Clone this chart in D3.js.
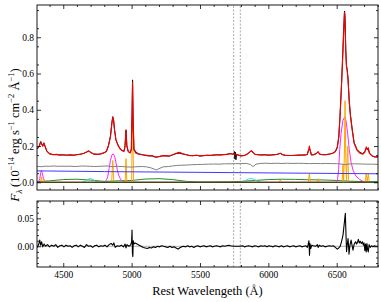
<!DOCTYPE html>
<html><head><meta charset="utf-8">
<script src="https://cdn.jsdelivr.net/npm/d3@7"></script>
<style>
body{margin:0;background:#fff}
svg{display:block}
text{font-family:"Liberation Serif","Times New Roman",serif;fill:#000}
</style>
</head><body><svg id="c" width="381" height="302"></svg>
<script>
// ---------------- DATA ----------------
const xMajorTicks = [4500, 5000, 5500, 6000, 6500];
const yTopTicks = [0.0, 0.2, 0.4, 0.6, 0.8];
const yBotTicks = [0.00, 0.05];
const maskedRegion = [5746, 5795];
const xLabel = "Rest Wavelengeth (Å)";

// observed spectrum (black)
const dataFlux = [[4310,0.183],[4325,0.202],[4335,0.225],[4343,0.212],[4350,0.199],[4358,0.218],[4366,0.2],[4380,0.171],[4400,0.157],[4425,0.153],[4450,0.153],[4475,0.151],[4500,0.151],[4525,0.15],[4550,0.151],[4575,0.149],[4600,0.153],[4625,0.155],[4650,0.159],[4670,0.168],[4686,0.173],[4700,0.166],[4720,0.156],[4740,0.155],[4760,0.154],[4780,0.158],[4800,0.164],[4815,0.17],[4830,0.201],[4845,0.253],[4855,0.325],[4862,0.362],[4868,0.346],[4875,0.29],[4885,0.234],[4900,0.206],[4915,0.186],[4930,0.176],[4945,0.171],[4952,0.204],[4959,0.287],[4965,0.203],[4975,0.17],[4990,0.163],[4998,0.185],[5003,0.38],[5007,0.565],[5011,0.33],[5017,0.185],[5030,0.168],[5050,0.158],[5075,0.153],[5100,0.148],[5125,0.145],[5150,0.145],[5175,0.138],[5200,0.141],[5225,0.146],[5250,0.146],[5275,0.144],[5300,0.151],[5325,0.158],[5350,0.16],[5375,0.156],[5400,0.152],[5425,0.147],[5450,0.147],[5475,0.149],[5500,0.145],[5525,0.147],[5550,0.149],[5575,0.149],[5600,0.15],[5625,0.152],[5650,0.151],[5675,0.153],[5700,0.155],[5721,0.159],[5740,0.155],[5748,0.156],[5752,0.17],[5755,0.128],[5759,0.166],[5763,0.124],[5768,0.155],[5780,0.15],[5800,0.146],[5825,0.148],[5850,0.158],[5876,0.174],[5900,0.155],[5925,0.152],[5950,0.151],[5975,0.152],[6000,0.15],[6025,0.151],[6050,0.153],[6070,0.155],[6087,0.16],[6105,0.152],[6125,0.149],[6150,0.148],[6175,0.148],[6200,0.149],[6225,0.15],[6250,0.15],[6270,0.151],[6285,0.153],[6294,0.18],[6300,0.186],[6306,0.178],[6315,0.15],[6330,0.152],[6350,0.158],[6364,0.167],[6375,0.156],[6400,0.152],[6425,0.153],[6450,0.156],[6470,0.16],[6490,0.168],[6504,0.19],[6515,0.247],[6524,0.362],[6533,0.505],[6541,0.65],[6550,0.83],[6557,0.945],[6561,0.92],[6566,0.74],[6571,0.64],[6576,0.625],[6583,0.575],[6592,0.435],[6600,0.375],[6610,0.315],[6627,0.22],[6648,0.182],[6670,0.165],[6690,0.158],[6705,0.17],[6716,0.186],[6724,0.183],[6731,0.18],[6740,0.16],[6760,0.145],[6780,0.14],[6802,0.14]];

// total model (red)
const modelFlux = [[4310,0.185],[4325,0.2],[4335,0.222],[4343,0.208],[4350,0.2],[4358,0.215],[4366,0.2],[4380,0.172],[4400,0.158],[4425,0.152],[4450,0.154],[4475,0.15],[4500,0.152],[4525,0.149],[4550,0.151],[4575,0.15],[4600,0.152],[4625,0.155],[4650,0.16],[4670,0.166],[4686,0.173],[4700,0.165],[4720,0.157],[4740,0.154],[4760,0.155],[4780,0.158],[4800,0.163],[4815,0.17],[4830,0.2],[4845,0.25],[4855,0.32],[4862,0.36],[4868,0.34],[4875,0.29],[4885,0.235],[4900,0.205],[4915,0.185],[4930,0.175],[4945,0.172],[4952,0.2],[4959,0.29],[4965,0.2],[4975,0.17],[4990,0.162],[4998,0.18],[5003,0.35],[5007,0.553],[5011,0.35],[5017,0.18],[5030,0.162],[5050,0.155],[5075,0.152],[5100,0.15],[5125,0.148],[5150,0.147],[5175,0.14],[5200,0.142],[5225,0.146],[5250,0.147],[5275,0.145],[5300,0.152],[5325,0.16],[5350,0.165],[5375,0.157],[5400,0.152],[5425,0.148],[5450,0.147],[5475,0.149],[5500,0.146],[5525,0.147],[5550,0.149],[5575,0.148],[5600,0.15],[5625,0.152],[5650,0.151],[5675,0.153],[5700,0.154],[5721,0.158],[5740,0.155],[5760,0.155],[5780,0.15],[5800,0.146],[5825,0.148],[5850,0.158],[5876,0.174],[5900,0.155],[5925,0.152],[5950,0.151],[5975,0.152],[6000,0.15],[6025,0.151],[6050,0.153],[6070,0.155],[6087,0.16],[6105,0.152],[6125,0.149],[6150,0.148],[6175,0.148],[6200,0.149],[6225,0.15],[6250,0.15],[6270,0.151],[6285,0.155],[6294,0.175],[6300,0.2],[6306,0.175],[6315,0.152],[6330,0.152],[6350,0.158],[6364,0.169],[6375,0.155],[6400,0.152],[6425,0.153],[6450,0.156],[6470,0.16],[6490,0.17],[6504,0.195],[6515,0.25],[6524,0.36],[6533,0.5],[6541,0.636],[6550,0.8],[6557,0.936],[6561,0.88],[6566,0.73],[6571,0.65],[6576,0.62],[6583,0.56],[6592,0.45],[6600,0.37],[6610,0.305],[6627,0.216],[6648,0.178],[6670,0.16],[6690,0.155],[6705,0.165],[6716,0.195],[6724,0.18],[6731,0.19],[6740,0.16],[6760,0.145],[6780,0.14],[6802,0.14]];

// host / stellar component (grey)
const hostFlux = [[4308,0.088],[4340,0.086],[4370,0.089],[4400,0.088],[4430,0.09],[4460,0.088],[4490,0.089],[4520,0.088],[4550,0.089],[4580,0.087],[4610,0.088],[4640,0.09],[4670,0.089],[4700,0.088],[4730,0.087],[4760,0.088],[4790,0.089],[4820,0.09],[4861,0.086],[4900,0.088],[4930,0.087],[4960,0.085],[5000,0.084],[5040,0.086],[5080,0.087],[5110,0.085],[5140,0.08],[5165,0.073],[5180,0.068],[5200,0.075],[5230,0.085],[5270,0.087],[5300,0.09],[5330,0.093],[5360,0.094],[5400,0.095],[5440,0.097],[5480,0.098],[5520,0.099],[5560,0.1],[5600,0.101],[5640,0.1],[5680,0.102],[5720,0.102],[5760,0.103],[5800,0.103],[5840,0.104],[5870,0.098],[5885,0.088],[5895,0.09],[5910,0.1],[5940,0.104],[5980,0.105],[6020,0.104],[6060,0.105],[6100,0.104],[6140,0.105],[6180,0.104],[6220,0.105],[6260,0.104],[6300,0.103],[6340,0.104],[6380,0.103],[6420,0.104],[6460,0.103],[6500,0.103],[6540,0.1],[6563,0.097],[6590,0.101],[6630,0.102],[6680,0.101],[6720,0.1],[6760,0.1],[6802,0.099]];

// power-law continuum (blue)
const powerLaw = [[4308,0.063],[4800,0.059],[5300,0.056],[5800,0.053],[6300,0.05],[6802,0.047]];

// Fe II-like pseudo-continuum (green)
const feFlux = [[4308,0.003],[4400,0.008],[4500,0.015],[4600,0.017],[4700,0.012],[4800,0.005],[4900,0.008],[5000,0.01],[5100,0.018],[5200,0.02],[5300,0.015],[5400,0.005],[5500,0.002],[5600,0.002],[5700,0.003],[5800,0.005],[5900,0.01],[6000,0.015],[6100,0.017],[6200,0.016],[6300,0.014],[6400,0.013],[6500,0.01],[6600,0.006],[6700,0.004],[6802,0.003]];

// zero-level component (dark)
const zeroComp = [[4308,0],[6802,0]];

// He lines (cyan)
const heFlux = [[4640,0],[4665,0.008],[4685,0.018],[4700,0.022],[4715,0.016],[4735,0.006],[4760,0],[5800,0],[5830,0.008],[5855,0.018],[5876,0.022],[5895,0.016],[5920,0.006],[5945,0]];

// broad Balmer lines (magenta)
const broadFlux = [[4318,0],[4328,0.02],[4336,0.055],[4341,0.065],[4347,0.05],[4355,0.02],[4368,0.003],[4380,0],[4800,0],[4815,0.01],[4825,0.03],[4835,0.075],[4845,0.12],[4855,0.15],[4865,0.157],[4875,0.145],[4885,0.11],[4895,0.07],[4905,0.04],[4920,0.015],[4940,0.003],[4955,0],[6500,0],[6507,0.02],[6514,0.07],[6522,0.18],[6532,0.27],[6545,0.34],[6558,0.36],[6568,0.34],[6580,0.27],[6592,0.18],[6605,0.11],[6620,0.065],[6640,0.035],[6665,0.017],[6690,0.006],[6715,0]];

// narrow lines (orange)
const narrowFlux = [[4334,0],[4340,0.03],[4346,0],[4358,0],[4363,0.015],[4368,0],[4854,0],[4862,0.12],[4870,0],[4953,0],[4957,0.09],[4959,0.13],[4961,0.09],[4965,0],[5000,0],[5004,0.25],[5007,0.41],[5010,0.25],[5014,0],[5712,0],[5721,0.008],[5730,0],[6075,0],[6087,0.012],[6099,0],[6292,0],[6300,0.05],[6308,0],[6356,0],[6364,0.02],[6372,0],[6540,0],[6546,0.1],[6551,0.01],[6556,0.15],[6561,0.45],[6566,0.15],[6571,0.01],[6576,0.12],[6581,0.2],[6586,0.01],[6590,0],[6708,0],[6716,0.05],[6723,0.005],[6731,0.045],[6739,0]];

// residuals (bottom panel)
const residual = [[4310,-0.002],[4320,0.003],[4328,0.011],[4335,0.002],[4342,0.008],[4350,-0.001],[4360,0.004],[4370,0.0],[4385,0.003],[4400,-0.001],[4415,0.002],[4430,0.0],[4445,0.003],[4460,-0.002],[4475,0.001],[4490,0.002],[4505,-0.001],[4520,0.002],[4535,0.0],[4550,0.001],[4565,-0.002],[4580,0.001],[4595,0.002],[4610,-0.001],[4625,0.002],[4640,0.0],[4655,-0.002],[4670,0.003],[4685,0.0],[4700,0.001],[4715,-0.002],[4730,0.001],[4745,0.002],[4760,-0.001],[4775,0.001],[4790,0.0],[4805,0.002],[4820,-0.001],[4835,0.003],[4850,0.005],[4862,0.002],[4870,0.006],[4880,-0.002],[4895,0.001],[4910,0.0],[4925,0.002],[4940,-0.001],[4952,0.004],[4959,-0.003],[4966,0.003],[4980,0.0],[4992,0.002],[5000,0.008],[5003,0.029],[5006,-0.012],[5009,-0.0185],[5012,0.01],[5016,0.004],[5025,0.006],[5040,0.004],[5055,0.002],[5070,0.0],[5085,-0.002],[5100,-0.003],[5115,-0.004],[5130,-0.002],[5145,-0.003],[5160,-0.001],[5175,-0.002],[5190,0.0],[5205,-0.001],[5220,0.001],[5235,0.0],[5250,-0.001],[5265,-0.002],[5280,0.0],[5295,-0.002],[5310,-0.001],[5325,-0.003],[5340,-0.005],[5350,-0.003],[5365,-0.001],[5380,0.0],[5395,-0.001],[5410,0.001],[5425,-0.001],[5440,0.0],[5455,-0.002],[5470,0.0],[5485,0.001],[5500,-0.001],[5515,0.0],[5530,0.001],[5545,-0.001],[5560,0.0],[5575,0.001],[5590,-0.001],[5605,0.0],[5620,0.001],[5635,0.0],[5650,-0.001],[5665,0.001],[5680,0.0],[5695,0.001],[5710,0.002],[5725,0.001],[5745,0.0],[5795,0.0],[5810,0.001],[5825,-0.001],[5840,0.0],[5855,0.001],[5870,0.0],[5885,-0.001],[5900,0.001],[5915,0.0],[5930,-0.001],[5945,0.001],[5960,0.0],[5975,0.001],[5990,-0.001],[6005,0.001],[6020,0.0],[6035,-0.001],[6050,0.001],[6065,0.0],[6080,-0.001],[6095,0.001],[6110,-0.001],[6125,0.0],[6140,0.001],[6155,-0.001],[6170,0.0],[6185,0.001],[6200,-0.001],[6215,0.0],[6230,0.001],[6245,-0.001],[6260,0.0],[6275,0.001],[6285,-0.002],[6292,0.004],[6297,0.01],[6301,-0.016],[6305,0.005],[6310,-0.004],[6318,0.002],[6330,0.001],[6345,0.0],[6358,0.003],[6364,-0.002],[6372,0.002],[6385,0.0],[6400,0.001],[6415,-0.001],[6430,0.0],[6445,0.001],[6460,0.0],[6475,0.001],[6490,-0.002],[6504,-0.005],[6515,-0.003],[6525,0.0],[6535,0.008],[6546,0.02],[6555,0.04],[6563,0.059],[6568,0.02],[6572,-0.0096],[6578,0.005],[6583,0.014],[6587,0.0],[6590,-0.014],[6597,0.002],[6605,0.011],[6612,0.002],[6619,-0.007],[6628,0.004],[6638,0.008],[6645,0.004],[6652,0.007],[6658,0.0125],[6665,0.006],[6672,0.009],[6680,0.005],[6688,0.008],[6695,0.002],[6700,0.006],[6706,-0.008],[6711,0.004],[6716,-0.01],[6721,0.005],[6726,-0.006],[6731,-0.01],[6737,0.003],[6745,-0.002],[6755,0.001],[6765,-0.001],[6775,0.001],[6785,0.0],[6802,0.0]];
const residualZero = [[4308,0],[6802,0]];

// ---------------- LAYOUT ----------------
const svg = d3.select("#c");
const L = 37, R = 378, T1 = 5, B1 = 190, T2 = 201, B2 = 267;
const x = d3.scaleLinear().domain([4308, 6802]).range([L, R]);
const y1 = d3.scaleLinear().domain([-0.0425, 0.978]).range([B1, T1]);
const y2 = d3.scaleLinear().domain([-0.037, 0.0809]).range([B2, T2]);

const defs = svg.append("defs");
defs.append("clipPath").attr("id","clipTop").append("rect").attr("x",L).attr("y",T1).attr("width",R-L).attr("height",B1-T1);
defs.append("clipPath").attr("id","clipBot").append("rect").attr("x",L).attr("y",T2).attr("width",R-L).attr("height",B2-T2);

function lineFor(ys){ return d3.line().x(d=>x(d[0])).y(d=>ys(d[1])); }

const gTop = svg.append("g").attr("clip-path","url(#clipTop)");
const gBot = svg.append("g").attr("clip-path","url(#clipBot)");

function vlines(g, ys){
  g.selectAll(null).data(maskedRegion).enter().append("line")
    .attr("x1",d=>x(d)).attr("x2",d=>x(d))
    .attr("y1",ys.range()[0]).attr("y2",ys.range()[1])
    .attr("stroke","#a0a0a0").attr("stroke-width",0.9).attr("stroke-dasharray","2,1.5");
}
vlines(gTop, y1); vlines(gBot, y2);

const l1 = lineFor(y1);
const series = [
  [feFlux, "#1f8f1f", 1.0],
  [heFlux, "#33dddd", 1.0],
  [broadFlux, "#ff22ff", 1.0],
  [narrowFlux, "#ffa500", 1.0],
  [zeroComp, "#0d260d", 1.1],
  [powerLaw, "#3b3bff", 1.0],
  [hostFlux, "#808080", 1.0],
  [dataFlux, "#000000", 0.9],
  [modelFlux, "#f00000", 1.15]
];
series.forEach(([d,c,w])=>{
  gTop.append("path").datum(d).attr("d",l1).attr("fill","none")
    .attr("stroke",c).attr("stroke-width",w).attr("stroke-linejoin","round");
});

const l2 = lineFor(y2);
gBot.append("path").datum(residualZero).attr("d",l2).attr("fill","none").attr("stroke","#b0b0b0").attr("stroke-width",1);
gBot.append("path").datum(residual).attr("d",l2).attr("fill","none").attr("stroke","#000").attr("stroke-width",1.1).attr("stroke-linejoin","round");

// ---------------- AXES ----------------
const xMinor = d3.range(4400, 6801, 100).filter(v=>!xMajorTicks.includes(v));
function styleAxis(g){
  g.select(".domain").remove();
  g.selectAll(".tick line").attr("stroke","#000").attr("stroke-width",0.8);
  g.selectAll("text").attr("font-size","9.5px").attr("font-family","'Liberation Serif', serif").attr("fill","#000");
}
function panelAxes(ys, top, bottom, yMajor, yMinor, yFmt, xLabels){
  svg.append("g").attr("transform",`translate(0,${bottom})`)
    .call(d3.axisBottom(x).tickValues(xMajorTicks).tickSize(-4).tickPadding(4).tickFormat(xLabels? d3.format("d") : ""))
    .call(styleAxis);
  svg.append("g").attr("transform",`translate(0,${bottom})`)
    .call(d3.axisBottom(x).tickValues(xMinor).tickSize(-2).tickFormat("")).call(styleAxis);
  svg.append("g").attr("transform",`translate(0,${top})`)
    .call(d3.axisTop(x).tickValues(xMajorTicks).tickSize(-4).tickFormat("")).call(styleAxis);
  svg.append("g").attr("transform",`translate(0,${top})`)
    .call(d3.axisTop(x).tickValues(xMinor).tickSize(-2).tickFormat("")).call(styleAxis);
  svg.append("g").attr("transform",`translate(${L},0)`)
    .call(d3.axisLeft(ys).tickValues(yMajor).tickSize(-4).tickPadding(3).tickFormat(yFmt)).call(styleAxis);
  svg.append("g").attr("transform",`translate(${L},0)`)
    .call(d3.axisLeft(ys).tickValues(yMinor).tickSize(-2).tickFormat("")).call(styleAxis);
  svg.append("g").attr("transform",`translate(${R},0)`)
    .call(d3.axisRight(ys).tickValues(yMajor).tickSize(-4).tickFormat("")).call(styleAxis);
  svg.append("g").attr("transform",`translate(${R},0)`)
    .call(d3.axisRight(ys).tickValues(yMinor).tickSize(-2).tickFormat("")).call(styleAxis);
  svg.append("rect").attr("x",L).attr("y",top).attr("width",R-L).attr("height",bottom-top)
    .attr("fill","none").attr("stroke","#000").attr("stroke-width",0.9);
}
const yTopMinor = d3.range(0.05, 0.96, 0.1).map(v=>+v.toFixed(2));
const yBotMinor = [-0.03,-0.02,-0.01,0.01,0.02,0.03,0.04,0.06,0.07,0.08];
panelAxes(y1, T1, B1, yTopTicks, yTopMinor, d3.format(".1f"), false);
panelAxes(y2, T2, B2, yBotTicks, yBotMinor, d3.format(".2f"), true);

// ---------------- LABELS ----------------
svg.append("text").attr("x",(L+R)/2).attr("y",294.5).attr("text-anchor","middle")
  .attr("font-size","12.5px").text(xLabel);

const yl = svg.append("text").attr("transform","translate(19,135) rotate(-90)")
  .attr("text-anchor","middle").attr("font-size","12.5px");
yl.append("tspan").attr("font-style","italic").attr("font-size","13.5px").text("F");
yl.append("tspan").attr("font-style","italic").attr("font-size","9px").attr("dy",3).text("λ");
yl.append("tspan").attr("dy",-3).text("\u2009(10");
yl.append("tspan").attr("font-size","8.5px").attr("dy",-5).text("−14");
yl.append("tspan").attr("dy",5).text(" erg s");
yl.append("tspan").attr("font-size","8.5px").attr("dy",-5).text("−1");
yl.append("tspan").attr("dy",5).text(" cm");
yl.append("tspan").attr("font-size","8.5px").attr("dy",-5).text("−2");
yl.append("tspan").attr("dy",5).text(" Å");
yl.append("tspan").attr("font-size","8.5px").attr("dy",-5).text("−1");
yl.append("tspan").attr("dy",5).text(")");
</script>
</body></html>
